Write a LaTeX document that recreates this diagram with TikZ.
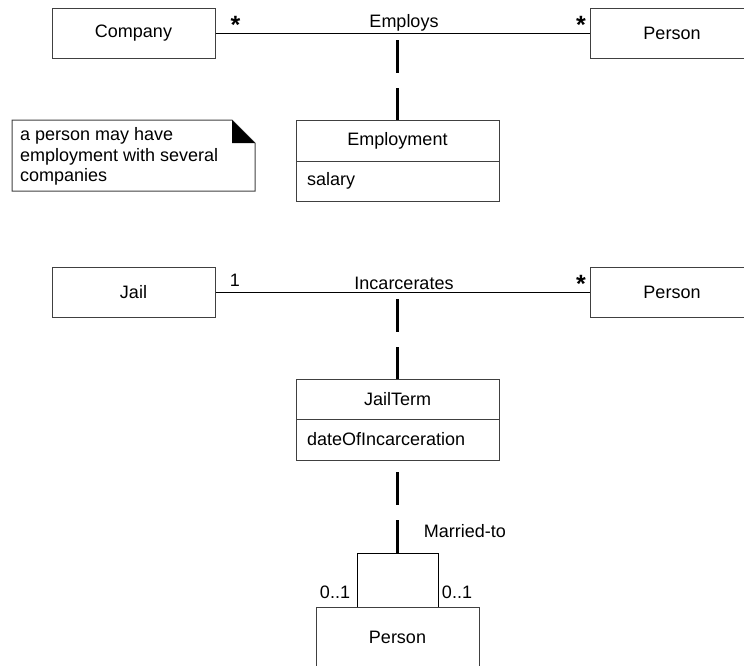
\documentclass[tikz,border=0pt]{standalone}
\usepackage{fontspec}
\setmainfont{Liberation Sans}
\begin{document}
\begin{tikzpicture}[x=1pt,y=-1pt,
  every node/.style={font=\fontsize{18}{21}\selectfont},
  cls/.style={draw=black!75, line width=1pt, minimum width=163pt, minimum height=50pt, inner sep=0pt},
  acls/.style={draw=black!75, line width=1pt, minimum width=203pt, inner sep=0pt},
  attr/.style={draw=black!75, line width=1pt, text width=181pt, inner xsep=11pt, inner ysep=0pt, align=left},
  assocline/.style={draw=black, line width=1pt},
  assocdash/.style={draw=black, line width=3.5pt, dash pattern=on 33pt off 15pt},
  lbl/.style={inner sep=0pt},
  starlbl/.style={inner sep=0pt, font=\fontsize{25}{28}\bfseries}
]
\clip (0,0) rectangle (744,665);
% top association
\node[cls] (company) at (133.5,33.5) {Company};
\node[cls, minimum width=164pt] (person1) at (672,33.5) {Person};
\draw[assocline] (company) -- (person1);
\node[starlbl] (star1) at (235.5,24.5) {*};
\node[starlbl] (star2) at (581,24.5) {*};
\node[lbl] (employs) at (404,23) {Employs};
\node[acls, minimum height=41pt] (emp) at (397.5,140.5) {Employment};
\node[attr, minimum height=40pt] (empattr) at (397.5,181) {salary};
\coordinate (emid) at (397.5,40);
\draw[assocdash] (emid) -- (emp.north);
% note
\draw[black!75, line width=1pt] (12,120) -- (232,120) -- (255,143) -- (255,191) -- (12,191) -- cycle;
\fill[black] (232,120) -- (232,143) -- (255,143) -- cycle;
\node[anchor=north west, align=left, inner sep=0pt, font=\fontsize{18}{20.5}\selectfont] (note) at (20,127.5) {a person may have\\employment with several\\companies};
% jail association
\node[cls] (jail) at (133.5,292) {Jail};
\node[cls, minimum width=164pt] (person2) at (672,292) {Person};
\draw[assocline] (jail) -- (person2);
\node[lbl] (one) at (235,280) {1};
\node[starlbl] (star3) at (581,283.5) {*};
\node[lbl] (incarc) at (404,283) {Incarcerates};
\node[acls, minimum height=40pt] (jt) at (397.5,399) {JailTerm};
\node[attr, minimum height=41pt] (jtattr) at (397.5,439.5) {dateOfIncarceration};
\coordinate (jmid) at (397.5,299);
\draw[assocdash] (jmid) -- (jt.north);
% married-to
\node[cls, minimum height=60pt] (person3) at (397.5,637) {Person};
\coordinate (loop) at (397.5,553);
\draw[assocline] ([xshift=-40.5pt]person3.north) |- (loop) -| ([xshift=40.5pt]person3.north);
\coordinate (mmid) at (397.5,472);
\draw[assocdash] (mmid) -- (loop);
\node[lbl] (married) at (465,531) {Married-to};
\node[lbl] (z1) at (335,592) {0..1};
\node[lbl] (z2) at (457,592) {0..1};
\end{tikzpicture}
\end{document}
